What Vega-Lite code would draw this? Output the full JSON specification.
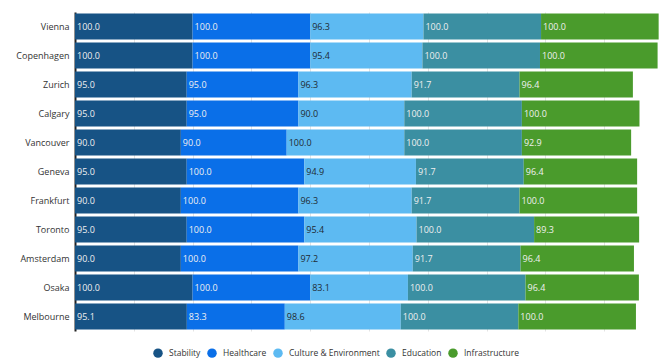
{
  "$schema": "https://vega.github.io/schema/vega-lite/v6.json",
  "width": 588,
  "height": 319,
  "autosize": "none",
  "padding": {"left": 75, "top": 12, "right": 7, "bottom": 31},
  "background": "#ffffff",
  "config": {
    "font": "Open Sans",
    "view": {"stroke": null}
  },
  "data": {
    "values": [
      {"city": "Vienna", "cat": "Stability", "value": 100.0},
      {"city": "Vienna", "cat": "Healthcare", "value": 100.0},
      {"city": "Vienna", "cat": "Culture & Environment", "value": 96.3},
      {"city": "Vienna", "cat": "Education", "value": 100.0},
      {"city": "Vienna", "cat": "Infrastructure", "value": 100.0},
      {"city": "Copenhagen", "cat": "Stability", "value": 100.0},
      {"city": "Copenhagen", "cat": "Healthcare", "value": 100.0},
      {"city": "Copenhagen", "cat": "Culture & Environment", "value": 95.4},
      {"city": "Copenhagen", "cat": "Education", "value": 100.0},
      {"city": "Copenhagen", "cat": "Infrastructure", "value": 100.0},
      {"city": "Zurich", "cat": "Stability", "value": 95.0},
      {"city": "Zurich", "cat": "Healthcare", "value": 95.0},
      {"city": "Zurich", "cat": "Culture & Environment", "value": 96.3},
      {"city": "Zurich", "cat": "Education", "value": 91.7},
      {"city": "Zurich", "cat": "Infrastructure", "value": 96.4},
      {"city": "Calgary", "cat": "Stability", "value": 95.0},
      {"city": "Calgary", "cat": "Healthcare", "value": 95.0},
      {"city": "Calgary", "cat": "Culture & Environment", "value": 90.0},
      {"city": "Calgary", "cat": "Education", "value": 100.0},
      {"city": "Calgary", "cat": "Infrastructure", "value": 100.0},
      {"city": "Vancouver", "cat": "Stability", "value": 90.0},
      {"city": "Vancouver", "cat": "Healthcare", "value": 90.0},
      {"city": "Vancouver", "cat": "Culture & Environment", "value": 100.0},
      {"city": "Vancouver", "cat": "Education", "value": 100.0},
      {"city": "Vancouver", "cat": "Infrastructure", "value": 92.9},
      {"city": "Geneva", "cat": "Stability", "value": 95.0},
      {"city": "Geneva", "cat": "Healthcare", "value": 100.0},
      {"city": "Geneva", "cat": "Culture & Environment", "value": 94.9},
      {"city": "Geneva", "cat": "Education", "value": 91.7},
      {"city": "Geneva", "cat": "Infrastructure", "value": 96.4},
      {"city": "Frankfurt", "cat": "Stability", "value": 90.0},
      {"city": "Frankfurt", "cat": "Healthcare", "value": 100.0},
      {"city": "Frankfurt", "cat": "Culture & Environment", "value": 96.3},
      {"city": "Frankfurt", "cat": "Education", "value": 91.7},
      {"city": "Frankfurt", "cat": "Infrastructure", "value": 100.0},
      {"city": "Toronto", "cat": "Stability", "value": 95.0},
      {"city": "Toronto", "cat": "Healthcare", "value": 100.0},
      {"city": "Toronto", "cat": "Culture & Environment", "value": 95.4},
      {"city": "Toronto", "cat": "Education", "value": 100.0},
      {"city": "Toronto", "cat": "Infrastructure", "value": 89.3},
      {"city": "Amsterdam", "cat": "Stability", "value": 90.0},
      {"city": "Amsterdam", "cat": "Healthcare", "value": 100.0},
      {"city": "Amsterdam", "cat": "Culture & Environment", "value": 97.2},
      {"city": "Amsterdam", "cat": "Education", "value": 91.7},
      {"city": "Amsterdam", "cat": "Infrastructure", "value": 96.4},
      {"city": "Osaka", "cat": "Stability", "value": 100.0},
      {"city": "Osaka", "cat": "Healthcare", "value": 100.0},
      {"city": "Osaka", "cat": "Culture & Environment", "value": 83.1},
      {"city": "Osaka", "cat": "Education", "value": 100.0},
      {"city": "Osaka", "cat": "Infrastructure", "value": 96.4},
      {"city": "Melbourne", "cat": "Stability", "value": 95.1},
      {"city": "Melbourne", "cat": "Healthcare", "value": 83.3},
      {"city": "Melbourne", "cat": "Culture & Environment", "value": 98.6},
      {"city": "Melbourne", "cat": "Education", "value": 100.0},
      {"city": "Melbourne", "cat": "Infrastructure", "value": 100.0}
    ]
  },
  "transform": [
    {"calculate": "indexof(['Stability','Healthcare','Culture & Environment','Education','Infrastructure'], datum.cat)", "as": "k"},
    {"stack": "value", "groupby": ["city"], "sort": [{"field": "k", "order": "ascending"}], "as": ["v0", "v1"]}
  ],
  "encoding": {
    "y": {
      "field": "city",
      "type": "nominal",
      "sort": ["Vienna", "Copenhagen", "Zurich", "Calgary", "Vancouver", "Geneva", "Frankfurt", "Toronto", "Amsterdam", "Osaka", "Melbourne"],
      "scale": {"paddingInner": 0.1, "paddingOuter": 0.05},
      "axis": {
        "title": null,
        "ticks": false,
        "labelPadding": 6,
        "labelFontSize": 9,
        "labelColor": "#333333",
        "labelFont": "Open Sans",
        "domainColor": "#222222",
        "domainWidth": 2,
        "grid": false
      }
    }
  },
  "layer": [
    {
      "mark": {"type": "bar"},
      "encoding": {
        "x": {
          "field": "v0",
          "type": "quantitative",
          "scale": {"domain": [0, 500], "nice": false},
          "axis": {
            "title": null,
            "labels": false,
            "ticks": false,
            "domain": false,
            "values": [50, 100, 150, 200, 250, 300, 350, 400, 450],
            "grid": true,
            "gridColor": "#e3e3e3",
            "gridWidth": 1
          }
        },
        "x2": {"field": "v1"},
        "color": {
          "field": "cat",
          "type": "nominal",
          "scale": {
            "domain": ["Stability", "Healthcare", "Culture & Environment", "Education", "Infrastructure"],
            "range": ["#175385", "#0a6fe8", "#5dbaf2", "#3b8fa2", "#4a9b2c"]
          },
          "legend": {
            "title": null,
            "orient": "none",
            "legendX": 78,
            "legendY": 336,
            "direction": "horizontal",
            "symbolType": "circle",
            "symbolSize": 90,
            "symbolStrokeWidth": 0,
            "labelFontSize": 8.5,
            "labelFont": "Open Sans",
            "labelColor": "#333333",
            "columnPadding": 6,
            "labelOffset": 6
          }
        }
      }
    },
    {
      "mark": {"type": "text", "align": "left", "baseline": "middle", "dx": 2, "fontSize": 9, "font": "Open Sans"},
      "encoding": {
        "x": {"field": "v0", "type": "quantitative"},
        "text": {"field": "value", "type": "quantitative", "format": ".1f"},
        "color": {
          "condition": {"test": "datum.cat === 'Culture & Environment'", "value": "#1f2a33"},
          "value": "#f0f0f0"
        }
      }
    }
  ]
}
